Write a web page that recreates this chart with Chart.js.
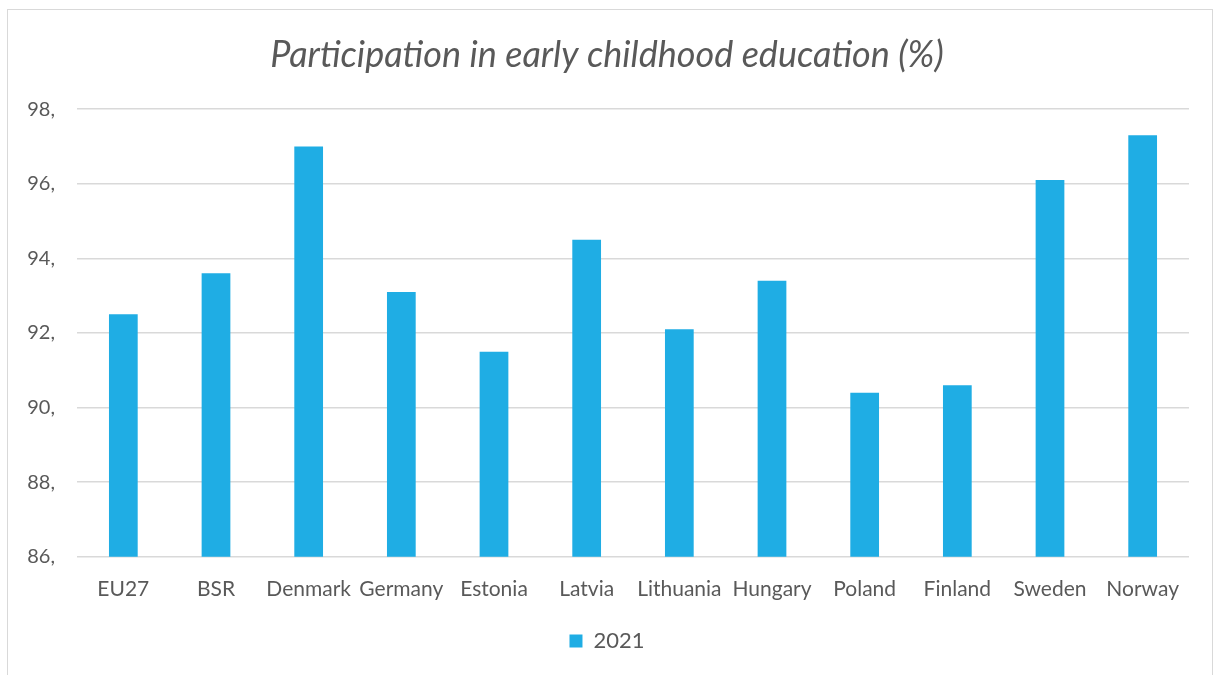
<!DOCTYPE html>
<html>
<head>
<meta charset="utf-8">
<script src="https://cdn.jsdelivr.net/npm/chart.js@4"></script>
<style>
  html,body{margin:0;padding:0;background:#fff;overflow:hidden;}
  #frame{position:absolute;left:7px;top:9px;width:1206px;height:680px;border:1px solid #d9d9d9;border-bottom:none;box-sizing:border-box;}
  #wrap{position:absolute;left:0;top:0;width:1205px;height:666px;}
</style>
</head>
<body>
<div id="frame"><div id="wrap"><canvas id="chart"></canvas></div></div>
<script>
const countries=['EU27','BSR','Denmark','Germany','Estonia','Latvia','Lithuania','Hungary','Poland','Finland','Sweden','Norway'];
const values2021=[92.5,93.6,97.0,93.1,91.5,94.5,92.1,93.4,90.4,90.6,96.1,97.3];
const seriesLabel='2021';
const yMin=86, yMax=98, yStep=2;

const grey='#595959';
const barColor='#1fade4';
const font='Lato, "Open Sans", sans-serif';

new Chart(document.getElementById('chart'),{
  type:'bar',
  data:{
    labels:countries,
    datasets:[{label:seriesLabel,data:values2021,backgroundColor:barColor,barPercentage:0.31,categoryPercentage:1}]
  },
  options:{
    responsive:true,
    maintainAspectRatio:false,
    animation:false,
    layout:{padding:{left:17,right:24,top:8,bottom:14}},
    plugins:{
      title:{display:true,text:'Participation in early childhood education (%)',color:grey,
        font:{family:font,size:36,style:'italic',weight:'normal'},padding:{top:16,bottom:32}},
      legend:{position:'bottom',labels:{color:grey,font:{family:font,size:22},boxWidth:13,boxHeight:13,padding:16}},
      tooltip:{enabled:false}
    },
    scales:{
      x:{grid:{display:false},border:{display:false},
        ticks:{color:grey,font:{family:font,size:21},padding:12,maxRotation:0,autoSkip:false}},
      y:{min:yMin,max:yMax,
        afterFit:s=>{s.width=52;},
        grid:{color:'#d9d9d9',lineWidth:1.5,drawTicks:false},border:{display:false},
        ticks:{stepSize:yStep,color:grey,font:{family:font,size:20},padding:22,callback:v=>v+','}}
    }
  }
});
</script>
</body>
</html>
